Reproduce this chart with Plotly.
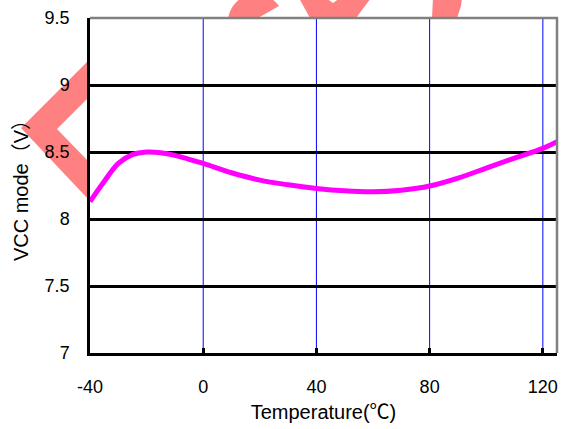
import numpy as np
import plotly.graph_objects as go

# Temperature sweep (°C) and measured VCC mode voltage (V)
temperature = [-40, -35, -30, -25, -20, -15, -10, -5, 0, 10, 20, 30, 40, 50, 60, 70, 80, 90, 100, 110, 120, 125]
vcc_mode = [8.13, 8.28, 8.415, 8.48, 8.50, 8.495, 8.475, 8.445, 8.415, 8.345, 8.29, 8.255, 8.228,
            8.21, 8.203, 8.215, 8.246, 8.305, 8.38, 8.455, 8.527, 8.577]

x_ticks = [-40, 0, 40, 80, 120]
y_ticks = [7, 7.5, 8, 8.5, 9, 9.5]

W, H = 562, 429
L, R, T, B = 90, 5, 18, 76
PW, PH = W - L - R, H - T - B


def to_paper(pts):
    """Convert page pixel points into paper coordinates."""
    return [((px - L) / PW, (H - B - py) / PH) for px, py in pts]


def path_from(pts):
    p = to_paper(pts)
    return "M " + " L ".join(f"{x:.5f},{y:.5f}" for x, y in p) + " Z"


wm_color = "rgba(255,128,128,1)"

# watermark pieces around the plot frame
chevron = [(89, 60), (21, 128), (89, 200), (89, 162), (57, 129), (89, 97)]

cx, cy, r = 256, 22, 28
left_arc = [(cx - np.sqrt(r**2 - (y - cy) ** 2), y) for y in np.linspace(18, -6, 13)]
right_arc = [(cx + np.sqrt(r**2 - (y - cy) ** 2), y) for y in np.linspace(-6, 6, 7)]
blob = left_arc + right_arc + [(258, 18)]

heart = [(299, -2), (326, -2), (333, 3), (340, -2), (371, -2), (356, 18), (310, 18)]
arc_piece = [(433, -2), (462, -2), (461, 6), (459, 12), (457, 18), (432, 18)]

shapes = []
for poly in (chevron, blob, heart, arc_piece):
    shapes.append(dict(type="path", xref="paper", yref="paper", path=path_from(poly),
                       fillcolor=wm_color, line=dict(width=0), layer="below"))

# thin blue vertical grid at the temperature ticks
for xv in x_ticks[1:]:
    shapes.append(dict(type="line", xref="x", yref="paper", x0=xv, x1=xv, y0=0, y1=1,
                       line=dict(color="#0000ff", width=1), layer="below"))

# grey frame on the top and right sides
shapes.append(dict(type="line", xref="paper", yref="paper", x0=0, x1=1.002, y0=1, y1=1,
                   line=dict(color="#808080", width=2.5), layer="above"))
shapes.append(dict(type="line", xref="paper", yref="paper", x0=1, x1=1, y0=0, y1=1.002,
                   line=dict(color="#808080", width=2.5), layer="above"))

fig = go.Figure()
fig.add_trace(go.Scatter(
    x=temperature, y=vcc_mode, mode="lines",
    line=dict(color="#ff00ff", width=5, shape="spline", smoothing=1.0),
    showlegend=False, hoverinfo="skip",
))

font_family = "Liberation Sans, Arial, Noto Sans CJK SC, sans-serif"

fig.update_layout(
    width=W, height=H,
    margin=dict(l=L, r=R, t=T, b=B),
    paper_bgcolor="white", plot_bgcolor="white",
    font=dict(family=font_family, size=18, color="black"),
    shapes=shapes,
    xaxis=dict(
        range=[-40, 125], tickvals=x_ticks, ticktext=[str(v) for v in x_ticks],
        showgrid=False, zeroline=False,
        showline=True, linecolor="black", linewidth=2.5,
        ticks="inside", ticklen=5, tickwidth=2.5, tickcolor="black",
        ticklabelstandoff=16,
        title=dict(text="Temperature(℃)", standoff=9, font=dict(size=20)),
    ),
    yaxis=dict(
        range=[7, 9.5], tickvals=y_ticks, ticktext=["7", "7.5", "8", "8.5", "9", "9.5"],
        showgrid=True, gridcolor="black", gridwidth=2.5, zeroline=False,
        showline=True, linecolor="black", linewidth=2.5,
        ticks="", ticklabelstandoff=14,
        title=dict(text="VCC mode（V）", standoff=11, font=dict(size=20)),
    ),
)

fig.write_html("out.html")
